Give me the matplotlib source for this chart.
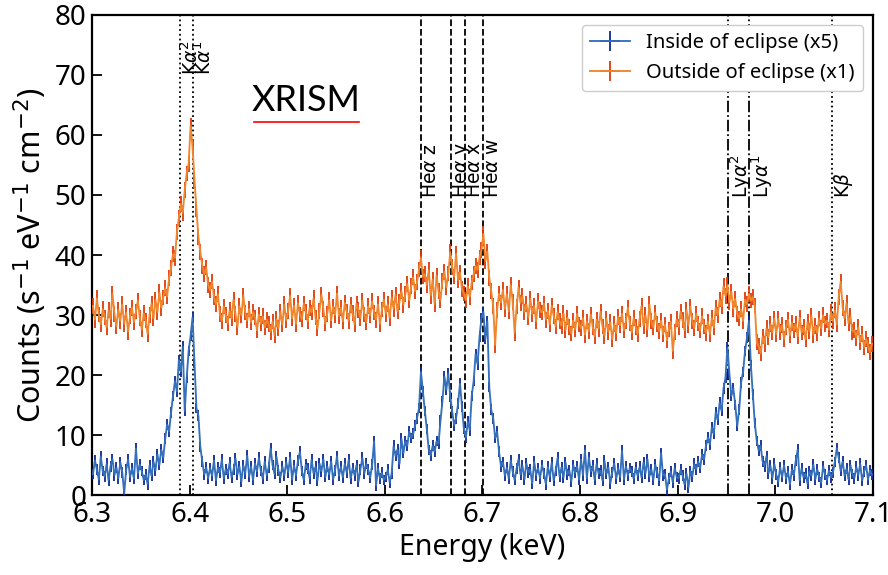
import numpy as np
import matplotlib
matplotlib.use("Agg")
import matplotlib.pyplot as plt

# 2 eV bins from 6.300 to 7.100 keV
E_LO, E_HI, BIN_W = 6.300, 7.100, 0.002

# outside of eclipse (x1), counts s-1 eV-1 cm-2
outside = [
    31.5, 29.2, 32.8, 30.1, 28.4, 31.0, 29.6, 27.9, 30.8, 29.3,
    33.6, 30.2, 28.1, 30.9, 29.0, 31.8, 28.5, 30.4, 27.2, 29.8,
    31.2, 28.8, 30.6, 32.4, 29.5, 27.6, 30.3, 29.1, 26.8, 30.0,
    31.9, 29.4, 32.6, 30.5, 33.8, 31.2, 32.9, 34.5, 33.1, 36.2,
    37.8, 40.2, 39.5, 43.8, 46.2, 48.5, 47.0, 50.8, 53.6, 55.2,
    61.5, 58.0, 52.5, 47.6, 43.0, 40.5, 38.2, 36.8, 37.9, 35.0,
    34.2, 35.6, 33.0, 31.8, 33.5, 30.2, 29.0, 31.4, 30.0, 28.6,
    30.8, 29.4, 32.6, 30.2, 28.0, 31.5, 29.9, 33.2, 30.4, 29.1,
    31.0, 28.8, 30.5, 29.6, 27.4, 30.1, 28.6, 29.8, 27.9, 29.2,
    28.5, 27.2, 28.9, 26.6, 29.3, 27.8, 30.6, 28.4, 31.8, 29.1,
    30.7, 33.2, 29.4, 31.6, 28.5, 32.0, 30.1, 29.3, 31.9, 30.5,
    28.9, 31.2, 30.4, 32.8, 29.6, 27.8, 30.7, 33.4, 31.0, 28.6,
    30.2, 32.5, 29.1, 31.4, 30.0, 33.6, 29.8, 31.2, 28.9, 32.1,
    30.6, 29.0, 31.7, 30.3, 28.4, 31.9, 30.8, 29.5, 32.4, 30.1,
    28.8, 31.5, 29.9, 32.3, 30.4, 29.2, 31.8, 28.5, 30.9, 32.6,
    30.2, 31.8, 29.5, 32.9, 31.0, 33.4, 30.6, 32.2, 34.0, 31.7,
    33.5, 35.2, 32.4, 34.8, 36.3, 33.9, 35.5, 37.6, 39.5, 36.4,
    36.8, 35.0, 37.5, 33.2, 35.9, 31.8, 36.6, 34.0, 32.5, 35.7,
    37.2, 34.6, 36.9, 40.5, 38.0, 36.4, 40.2, 35.8, 37.1, 34.3,
    33.6, 32.5, 34.8, 33.0, 35.4, 36.8, 38.2, 37.5, 39.6, 40.8,
    43.5, 39.0, 40.6, 36.2, 34.0, 31.5, 25.0, 30.8, 33.6, 32.1,
    34.2, 31.0, 33.5, 30.6, 35.0, 32.2, 27.0, 31.4, 34.6, 32.0,
    33.2, 30.5, 31.8, 29.6, 32.7, 30.2, 31.5, 28.9, 32.3, 30.8,
    30.4, 31.9, 29.2, 30.7, 28.4, 31.6, 29.8, 28.1, 30.5, 29.0,
    28.2, 30.3, 27.5, 29.6, 28.0, 26.9, 29.1, 27.6, 30.2, 28.4,
    27.8, 29.5, 26.7, 28.9, 27.3, 30.1, 28.0, 26.4, 29.2, 27.7,
    30.6, 28.1, 26.5, 29.4, 27.2, 28.8, 25.9, 28.5, 27.0, 29.7,
    28.3, 30.2, 27.4, 29.0, 31.2, 28.6, 27.1, 29.5, 28.0, 26.8,
    29.3, 31.5, 28.2, 30.0, 27.6, 31.8, 29.0, 27.9, 30.4, 28.5,
    27.3, 29.1, 26.8, 28.4, 25.8, 27.6, 28.9, 24.0, 27.2, 29.3,
    28.0, 30.6, 29.2, 27.5, 30.9, 28.3, 31.4, 29.0, 27.8, 30.2,
    28.6, 27.4, 29.8, 28.1, 27.0, 28.9, 26.8, 29.5, 27.9, 31.2,
    30.0, 32.6, 31.4, 34.8, 33.2, 35.0, 32.1, 33.9, 31.0, 32.7,
    30.2, 29.4, 31.0, 29.0, 32.6, 31.8, 33.5, 32.4, 33.0, 31.6,
    25.5, 24.8, 23.6, 26.4, 25.2, 27.8, 26.3, 28.5, 27.1, 29.4,
    26.8, 29.4, 27.2, 28.3, 26.0, 27.9, 29.2, 26.6, 28.7, 27.4,
    28.5, 26.4, 29.6, 27.1, 28.0, 25.9, 28.8, 27.3, 29.9, 26.7,
    28.2, 27.0, 29.4, 27.8, 30.0, 28.5, 29.1, 27.6, 30.5, 29.0,
    30.8, 28.4, 33.0, 35.6, 31.2, 29.4, 32.0, 28.6, 29.8, 27.2,
    27.5, 26.2, 28.0, 25.4, 26.8, 24.6, 26.0, 25.0, 23.8, 25.2,
]

# inside of eclipse (x5)
inside = [
    3.5, 5.8, 4.2, 2.6, 6.4, 4.0, 3.1, 5.2, 2.4, 4.8,
    6.0, 3.3, 4.6, 2.8, 5.5, 3.8, 0.3, 4.2, 5.9, 3.0,
    4.4, 2.7, 7.8, 3.6, 5.1, 4.0, 2.5, 3.4, 1.8, 4.9,
    3.2, 5.6, 4.1, 6.8, 5.0, 7.6, 6.2, 9.4, 11.8, 10.6,
    13.8, 16.5, 19.0, 17.2, 22.5, 20.6, 24.8, 14.0, 19.5, 24.0,
    26.5, 29.6, 22.0, 14.5, 13.2, 8.0, 5.6, 3.4, 4.6, 2.8,
    4.5, 3.2, 5.8, 2.4, 4.6, 3.7, 5.9, 2.8, 4.3, 3.5,
    5.4, 2.9, 4.2, 6.1, 3.4, 4.8, 2.2, 5.0, 3.6, 6.6,
    3.1, 4.7, 2.5, 5.3, 3.9, 6.2, 4.0, 2.7, 5.6, 3.3,
    4.6, 7.8, 5.0, 3.5, 6.4, 4.1, 2.9, 4.8, 3.2, 5.5,
    3.8, 6.3, 2.6, 4.9, 3.3, 5.7, 7.2, 4.0, 2.5, 5.1,
    4.4, 2.8, 5.9, 3.6, 4.7, 2.4, 5.3, 3.9, 6.0, 3.0,
    4.8, 3.4, 5.6, 2.6, 4.1, 6.5, 3.2, 4.7, 2.9, 5.2,
    3.7, 5.9, 2.7, 4.5, 3.3, 5.0, 2.2, 4.3, 6.2, 3.6,
    5.2, 4.2, 2.9, 5.1, 9.0, 1.6, 4.4, 2.8, 3.7, 2.5,
    3.0, 4.2, 2.1, 3.6, 8.2, 6.5, 7.6, 5.2, 9.4, 7.0,
    9.0, 8.2, 10.6, 9.5, 10.2, 11.6, 12.8, 14.5, 20.5, 17.2,
    14.0, 11.0, 7.5, 6.6, 8.2, 7.2, 9.0, 8.5, 12.4, 15.6,
    19.8, 17.5, 20.3, 16.4, 14.0, 11.6, 12.8, 15.2, 18.6, 14.8,
    11.0, 9.6, 12.2, 10.8, 16.5, 19.0, 23.5, 21.8, 26.4, 29.5,
    30.5, 26.0, 29.0, 18.0, 14.2, 12.8, 9.5, 10.6, 7.2, 4.8,
    5.5, 3.2, 4.6, 2.7, 5.8, 3.9, 2.5, 4.4, 6.0, 3.4,
    4.9, 2.6, 5.3, 3.8, 4.2, 1.9, 5.6, 3.3, 4.5, 2.8,
    5.0, 3.6, 1.8, 4.7, 3.0, 5.4, 2.4, 4.0, 6.2, 3.1,
    4.6, 2.9, 5.5, 3.4, 4.1, 2.2, 5.0, 3.7, 4.8, 2.6,
    5.9, 3.3, 7.5, 2.8, 6.3, 3.9, 4.9, 2.5, 5.2, 3.6,
    4.1, 2.4, 5.7, 3.5, 4.6, 1.9, 3.8, 5.3, 2.7, 4.4,
    3.0, 7.4, 2.6, 4.8, 3.3, 4.5, 3.9, 2.7, 4.6, 3.2,
    4.7, 2.9, 5.4, 3.6, 6.0, 3.1, 4.3, 2.5, 5.1, 3.7,
    2.4, 7.0, 3.2, 3.5, 0.9, 2.7, 3.9, 2.1, 4.5, 3.0,
    2.8, 4.2, 3.3, 1.8, 3.6, 1.2, 4.0, 3.1, 5.2, 4.3,
    5.6, 4.5, 6.8, 5.9, 8.2, 9.6, 8.4, 11.3, 10.2, 13.8,
    12.5, 15.4, 14.0, 17.8, 19.6, 24.6, 20.2, 16.5, 17.8, 15.0,
    11.5, 14.2, 18.8, 20.5, 24.0, 26.2, 29.0, 21.6, 16.8, 12.0,
    9.0, 7.4, 8.2, 5.6, 4.8, 6.5, 3.6, 4.9, 2.8, 5.2,
    3.4, 2.2, 4.6, 3.0, 5.0, 2.7, 3.9, 1.8, 4.2, 3.3,
    5.8, 7.6, 2.4, 4.5, 2.9, 3.6, 1.9, 4.0, 3.2, 5.1,
    2.6, 4.3, 3.0, 2.1, 4.8, 3.4, 2.5, 4.1, 2.9, 3.7,
    5.5, 7.8, 6.2, 4.0, 5.6, 3.2, 4.4, 2.6, 5.0, 3.5,
    2.8, 4.7, 3.3, 5.2, 2.4, 3.9, 5.0, 2.6, 4.1, 3.4,
]
ERR_OUT = 1.3
ERR_IN = 0.9

# line identifications (keV)
line_names = [r"K$\alpha^2$", r"K$\alpha^1$", r"He$\alpha$ z", r"He$\alpha$ y",
              r"He$\alpha$ x", r"He$\alpha$ w", r"Ly$\alpha^2$", r"Ly$\alpha^1$", r"K$\beta$"]
line_energy = [6.3905, 6.4038, 6.6366, 6.6674, 6.6823, 6.7004, 6.9520, 6.9732, 7.0580]
line_style = [":", ":", "--", "--", "--", "--", "-.", "-.", ":"]
label_y = [70, 70, 49.5, 49.5, 49.5, 49.5, 49.5, 49.5, 49.5]

energy = np.arange(len(outside)) * BIN_W + E_LO + BIN_W / 2

plt.rcParams['font.family'] = ['Noto Sans', 'DejaVu Sans']
fig = plt.figure(figsize=(8.88, 5.75), dpi=100)
ax = fig.add_axes([0.1036, 0.139, 0.8794, 0.835])

ax.errorbar(energy, inside, xerr=BIN_W / 2, yerr=ERR_IN, fmt='-', color='#3570bb',
            ecolor='#0d2896', lw=1.35, elinewidth=1.3, label='Inside of eclipse (x5)', zorder=3)
ax.errorbar(energy, outside, xerr=BIN_W / 2, yerr=ERR_OUT, fmt='-', color='#f0862e',
            ecolor='#e03a05', lw=1.35, elinewidth=1.3, label='Outside of eclipse (x1)', zorder=3)

for name, e, ls, ly in zip(line_names, line_energy, line_style, label_y):
    ax.axvline(e, color='black', ls=ls, lw=1.3, zorder=2)
    ax.text(e, ly, name, rotation=90, ha='left', va='bottom', fontsize=13.5,
            family=['DejaVu Sans'])

ax.text(6.519, 65.8, 'XRISM', ha='center', va='center', fontsize=26,
        family=['Lato'], fontweight='normal')
ax.plot([6.466, 6.574], [62.2, 62.2], color='red', lw=1.2)

ax.set_xlim(E_LO, E_HI)
ax.set_ylim(0, 80)
ax.set_xticks(np.arange(6.3, 7.15, 0.1))
ax.set_xticklabels(['6.3', '6.4', '6.5', '6.6', '6.7', '6.8', '6.9', '7.0', '7.1'])
ax.set_yticks(np.arange(0, 81, 10))
ax.tick_params(direction='in', length=7, width=1.3, labelsize=20, pad=4)
for s in ax.spines.values():
    s.set_linewidth(1.6)
ax.set_xlabel('Energy (keV)', fontsize=20.5, labelpad=3)
ax.set_ylabel(r'Counts (s$^{-1}$ eV$^{-1}$ cm$^{-2}$)', fontsize=22, labelpad=4)
ax.legend(loc='upper right', fontsize=14.5, handlelength=2.0, borderpad=0.4,
          framealpha=1.0, edgecolor='#cccccc')

fig.savefig('out.png', dpi=100)
